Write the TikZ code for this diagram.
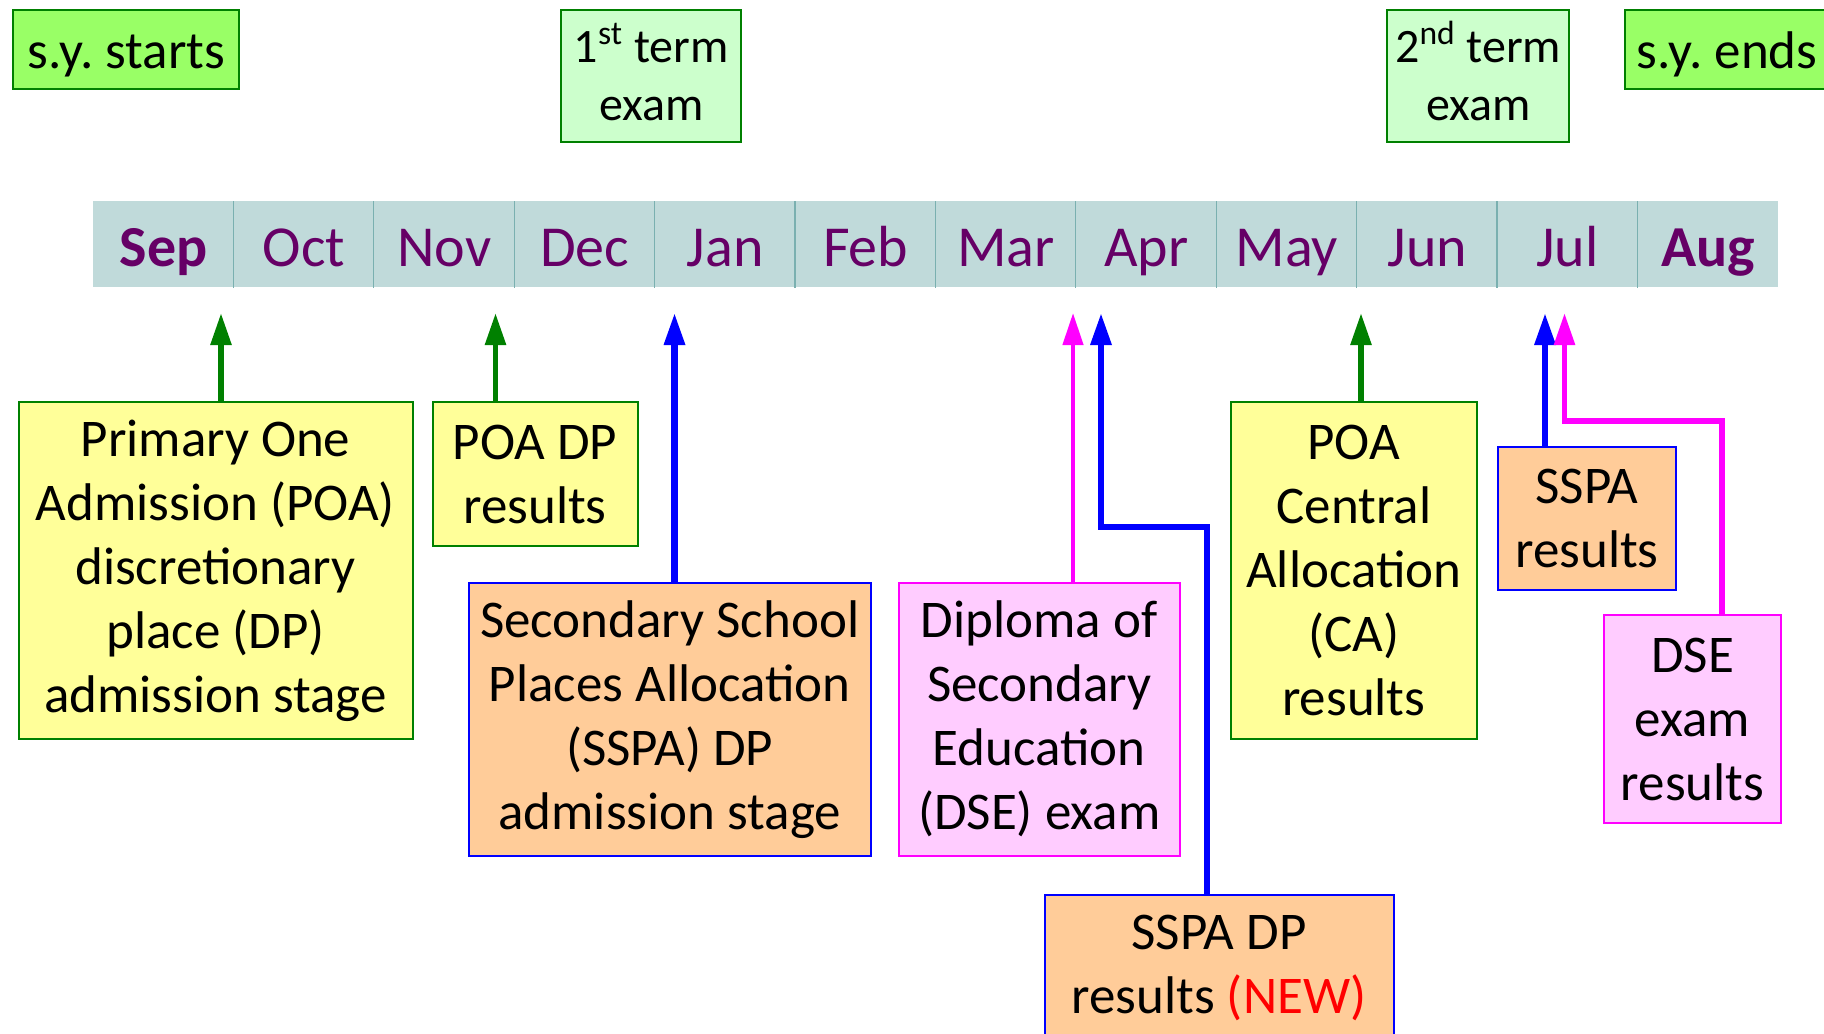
\documentclass[tikz,border=0pt]{standalone}
\usepackage{fontspec}
\setmainfont{Carlito}
\frenchspacing
\usetikzlibrary{arrows.meta}
\definecolor{boxyellow}{HTML}{FFFF99}
\definecolor{boxorange}{HTML}{FFCC99}
\definecolor{boxpink}{HTML}{FFCCFF}
\definecolor{boxlime}{HTML}{99FF66}
\definecolor{boxmint}{HTML}{CCFFCC}
\definecolor{edgegreen}{HTML}{008000}
\definecolor{edgeblue}{HTML}{0000FF}
\definecolor{edgepink}{HTML}{FF00FF}
\definecolor{newred}{HTML}{FF0000}
\definecolor{barteal}{HTML}{C0DADA}
\definecolor{lineteal}{HTML}{7AB0B0}
\definecolor{monthpurple}{HTML}{660066}
\begin{document}
\begin{tikzpicture}[x=0.5pt, y=-0.5pt,
	every node/.style={inner sep=0pt, align=center, anchor=north west, font=\fontsize{26.5}{32}\selectfont},
	yelbox/.style={draw=edgegreen, line width=1pt, fill=boxyellow},
	orbox/.style={draw=edgeblue, line width=1pt, fill=boxorange},
	pinkbox/.style={draw=edgepink, line width=1pt, fill=boxpink},
	yearbox/.style={draw=edgegreen, line width=1.2pt, fill=boxlime, minimum height=39.5pt, text height=19pt, text depth=0pt, font=\fontsize{26.5}{30}\selectfont},
	termbox/.style={draw=edgegreen, line width=1.2pt, fill=boxmint, minimum height=66pt, font=\fontsize{24}{29}\selectfont},
	month/.style={fill=barteal, text=monthpurple, minimum width=70.2pt, minimum height=43pt, text height=22pt, text depth=0pt, font=\fontsize{29}{32}\selectfont},
	divider/.style={draw=lineteal, line width=0.6pt},
	garrow/.style={draw=edgegreen, line width=2.8pt, -{Triangle[length=16pt, width=10pt]}},
	barrow/.style={draw=edgeblue, line width=3.1pt, -{Triangle[length=16pt, width=10pt]}},
	marrow/.style={draw=edgepink, line width=2.5pt, -{Triangle[length=16pt, width=10pt]}}]
	\useasboundingbox (0,0) rectangle (1824,1033);
	\node[yearbox, minimum width=113pt] (systart) at (12,9) {s.y. starts};
	\node[termbox, minimum width=90pt] (term1) at (560,9) {1\smash{\textsuperscript{st}} term\\exam};
	\node[termbox, minimum width=91pt] (term2) at (1386,9) {2\smash{\textsuperscript{nd}} term\\exam};
	\node[yearbox, minimum width=102pt] (syend) at (1624,9) {s.y. ends};
	\node[month] (m1) at (93.0,201) {\textbf{Sep}};
	\node[month] (m2) at (233.4,201) {Oct};
	\node[month] (m3) at (373.8,201) {Nov};
	\node[month] (m4) at (514.2,201) {Dec};
	\node[month] (m5) at (654.6,201) {Jan};
	\node[month] (m6) at (795.0,201) {Feb};
	\node[month] (m7) at (935.4,201) {Mar};
	\node[month] (m8) at (1075.8,201) {Apr};
	\node[month] (m9) at (1216.2,201) {May};
	\node[month] (m10) at (1356.6,201) {Jun};
	\node[month] (m11) at (1497.0,201) {Jul};
	\node[month] (m12) at (1637.4,201) {\textbf{Aug}};
	\draw[divider] (m2.north west) -- (m2.south west);
	\draw[divider] (m3.north west) -- (m3.south west);
	\draw[divider] (m4.north west) -- (m4.south west);
	\draw[divider] (m5.north west) -- (m5.south west);
	\draw[divider] (m6.north west) -- (m6.south west);
	\draw[divider] (m7.north west) -- (m7.south west);
	\draw[divider] (m8.north west) -- (m8.south west);
	\draw[divider] (m9.north west) -- (m9.south west);
	\draw[divider] (m10.north west) -- (m10.south west);
	\draw[divider] (m11.north west) -- (m11.south west);
	\draw[divider] (m12.north west) -- (m12.south west);
	\node[yelbox, minimum width=197pt, minimum height=168.5pt] (poastage) at (17.5,401) {Primary One\\Admission (POA)\\discretionary\\place (DP)\\admission stage};
	\node[yelbox, minimum width=102.5pt, minimum height=72pt] (poadp) at (431.5,401) {POA DP\\results};
	\node[orbox, minimum width=201.25pt, minimum height=136.75pt] (sspastage) at (467.5,581.5) {Secondary School\\Places Allocation\\(SSPA) DP\\admission stage};
	\node[pinkbox, minimum width=140.25pt, minimum height=136.75pt] (dseexam) at (898,581.5) {Diploma of\\Secondary\\Education\\(DSE) exam};
	\node[orbox, minimum width=174.5pt, minimum height=73pt] (sspanew) at (1043.5,893.5) {SSPA DP\\results \textcolor{newred}{(NEW)}};
	\node[yelbox, minimum width=123.25pt, minimum height=168.5pt] (poaca) at (1229.5,401) {POA\\Central\\Allocation\\(CA)\\results};
	\node[orbox, minimum width=89pt, minimum height=71.5pt] (sspares) at (1497,445.5) {SSPA\\results};
	\node[pinkbox, minimum width=88.5pt, minimum height=104pt] (dseres) at (1603,614) {DSE\\exam\\results};
	\coordinate (pSep) at (221,313);
	\coordinate (pNov) at (495.5,313);
	\coordinate (pJan) at (674.5,313);
	\coordinate (pMar) at (1073,313);
	\coordinate (pApr) at (1101,313);
	\coordinate (pJun) at (1361,313);
	\coordinate (pJulA) at (1545,313);
	\coordinate (pJulB) at (1564.5,313);
	\coordinate (bendA) at (1207,527);
	\coordinate (bendB) at (1722,421);
	\draw[garrow] (poastage.north -| pSep) -- (pSep);
	\draw[garrow] (poadp.north -| pNov) -- (pNov);
	\draw[barrow] (sspastage.north -| pJan) -- (pJan);
	\draw[marrow, line width=2.2pt] (dseexam.north -| pMar) -- (pMar);
	\draw[barrow] (sspanew.north -| bendA) -- (bendA) -| (pApr);
	\draw[garrow] (poaca.north -| pJun) -- (pJun);
	\draw[barrow] (sspares.north -| pJulA) -- (pJulA);
	\draw[marrow, line width=2.8pt] (dseres.north -| bendB) -- (bendB) -| (pJulB);
\end{tikzpicture}
\end{document}
